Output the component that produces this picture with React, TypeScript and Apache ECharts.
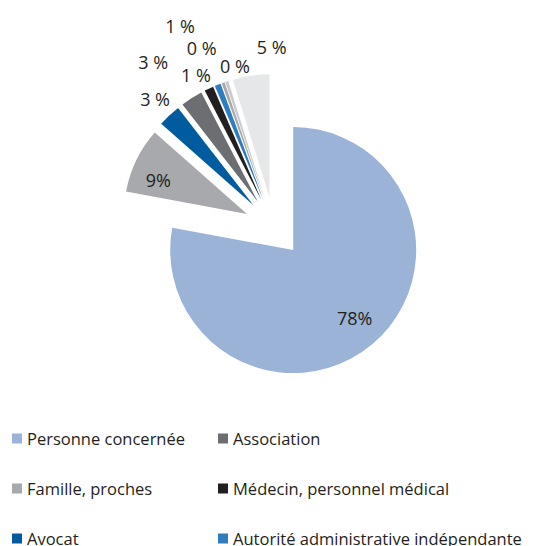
import React, { useEffect, useRef } from "react";
import * as echarts from "echarts";

const categories = [
  "Personne concernée",
  "Famille, proches",
  "Avocat",
  "Association",
  "Médecin, personnel médical",
  "Autorité administrative indépendante",
  "Juge",
  "Travailleur social",
  "Autre",
];
const values = [77.9, 8.6, 3.0, 2.9, 1.2, 0.8, 0.4, 0.4, 4.8];
const colors = [
  "#9AB3D7",
  "#A7A9AC",
  "#005C9E",
  "#6D6E71",
  "#231F20",
  "#2F7DBE",
  "#A7A9AC",
  "#C9CACC",
  "#E6E7E8",
];
// label style per slice: "%" glued for the two large slices, spaced for the others
const labelSpaced = [false, false, true, true, true, true, true, true, true];
// label placement tweaks (radial / horizontal distance), in px
const labelRadial = [-34.6, -46.2, 22.6, 42.9, 15.0, 63.2, 36.7, 15.9, 29.0];
const labelShift = [-17.8, 2.1, -21.2, -4.6, -13.5, -5.6, -10.7, -33.1, -44.9];

export default function App() {
  const ref = useRef<HTMLDivElement>(null);
  useEffect(() => {
    if (!ref.current) return;
    const chart = echarts.init(ref.current, null, { renderer: "svg" });
    const font = "'Open Sans', 'Noto Sans', sans-serif";
    const data = categories.map((name, i) => ({
      name,
      value: values[i],
      selected: true,
      itemStyle: { color: colors[i] },
      label: {
        position: "outside",
        formatter: () =>
          labelSpaced[i] ? `${Math.round(values[i])} %` : `${Math.round(values[i])}%`,
      },
      labelLine: { show: false, length: labelRadial[i], length2: labelShift[i] },
    }));
    chart.setOption({
      animation: false,
      color: colors,
      legend: {
        orient: "vertical",
        left: 7,
        top: 425,
        height: 130,
        itemWidth: 10,
        itemHeight: 10,
        itemGap: 33,
        icon: "rect",
        selectedMode: false,
        textStyle: { fontFamily: font, fontSize: 16.5, color: "#231F20" },
        data: categories,
      },
      series: [
        {
          type: "pie",
          center: [274, 227],
          radius: [0, 123],
          startAngle: 90,
          clockwise: true,
          selectedMode: "multiple",
          selectedOffset: 30,
          avoidLabelOverlap: false,
          silent: true,
          emphasis: { disabled: true, scale: false },
          select: { itemStyle: { borderWidth: 0 } },
          label: {
            fontFamily: font,
            fontSize: 18,
            color: "#231F20",
          },
          labelLayout: { hideOverlap: false },
          data,
        },
      ],
    });
    return () => chart.dispose();
  }, []);
  return (
    <div
      ref={ref}
      style={{ position: "fixed", left: 0, top: 0, width: 544, height: 546, background: "#fff" }}
    />
  );
}
